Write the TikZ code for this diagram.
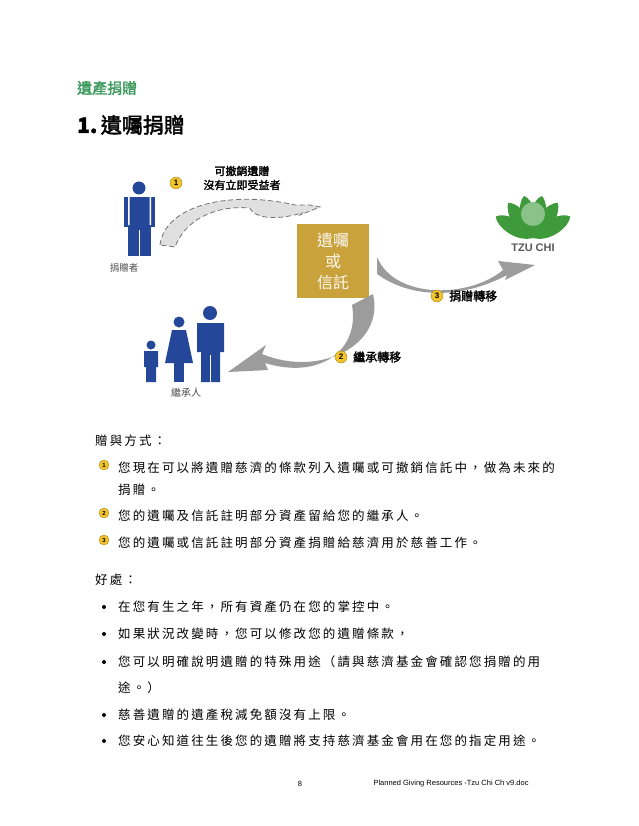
\documentclass[tikz,border=0pt]{standalone}
\usepackage{fontspec}
\newfontfamily\cjk{Noto Sans CJK TC}
\newfontfamily\cjkw{Noto Sans CJK TC}[LetterSpace=17]
\newfontfamily\cjkb{Noto Sans CJK TC}[FakeBold=2]
\setmainfont{Liberation Sans}
\usetikzlibrary{positioning}
\definecolor{titlegreen}{HTML}{3E9A5E}
\definecolor{gold}{HTML}{C9A23C}
\definecolor{badge}{HTML}{F2C32A}
\definecolor{figblue}{HTML}{24479A}
\definecolor{swoosh}{HTML}{9C9C9C}
\definecolor{lotus}{HTML}{3E9A3A}

\begin{document}
\begin{tikzpicture}[x=1pt,y=-1pt]
  \tikzset{
    badge/.style={circle, fill=badge, draw=badge!70!black, inner sep=0pt, minimum size=12pt,
      font=\bfseries\fontsize{8}{8}\selectfont},
    lbl/.style={font=\cjkb\fontsize{12}{15}\selectfont, anchor=west, inner sep=0pt},
    body/.style={font=\cjkw\fontsize{12.5}{22}\selectfont, anchor=west, inner sep=0pt},
    dot/.style={circle, fill=black, inner sep=0pt, minimum size=4pt},
    person/.style={fill=figblue}
  }
  \useasboundingbox (0,0) rectangle (638,826);
  \fill[white] (0,0) rectangle (638,826);

  % headings
  \node[font=\cjkb\fontsize{15}{15}\selectfont, text=titlegreen, anchor=west, inner sep=0pt] (sec) at (77,88) {遺產捐贈};
  \node[font=\cjkb\fontsize{21}{21}\selectfont, anchor=west, inner sep=0pt] (sub) at (77,125) {{\bfseries 1.}\,遺囑捐贈};

  % donor
  \fill[person] (139,188) circle (6.5);
  \fill[person] (124,197) rectangle (155,227);
  \fill[person] (128,227) rectangle (151,256);
  \fill[white] (138.8,230) rectangle (140.2,256);
  \fill[white] (128,197) rectangle (129.5,225) (149.5,197) rectangle (151,225);
  \node[font=\cjk\fontsize{9.5}{10}\selectfont, text=black!70] (donor) at (124,268) {捐贈者};

  % dashed swoosh 1
  \filldraw[fill=black!12, draw=black!55, dash pattern=on 5pt off 3pt, thick]
    (160,245) .. controls (165,205) and (230,190) .. (295,205)
    -- (310,205) -- (320,207) -- (300,215) -- (302,213)
    .. controls (260,225) and (250,210) .. (250,208)
    .. controls (215,205) and (185,220) .. (175,247) -- cycle;
  \node[badge] (b1) at (176,183) {1};
  \node[font=\cjkb\fontsize{11}{14}\selectfont, align=center, inner sep=0pt] (l1) at (242,178) {可撤銷遺贈\\沒有立即受益者};

  % will or trust
  \node[fill=gold, minimum width=72pt, minimum height=74pt, align=center, text=white!92!gold,
    font=\cjk\fontsize{16}{21}\selectfont, inner sep=0pt] (will) at (333,261) {遺囑\\或\\信託};

  % swoosh 3
  \fill[swoosh] (377,257) .. controls (395,300) and (470,298) .. (503,270)
    -- (498,261) -- (535,265) -- (505,280) -- (507,275)
    .. controls (460,300) and (410,298) .. (377,274) -- cycle;
  \node[badge] (b3) at (437,296) {3};
  \node[lbl] (l3) at (449,296) {捐贈轉移};

  % swoosh 2
  \fill[swoosh] (373,294) .. controls (385,345) and (320,378) .. (262,354)
    -- (266,345) -- (228,372) -- (268,370) -- (265,363)
    .. controls (320,380) and (360,350) .. (352,305) -- cycle;
  \node[badge] (b2) at (341,357) {2};
  \node[lbl] (l2) at (353,357) {繼承轉移};

  % heirs
  \fill[person] (151,345) circle (4.5);
  \fill[person] (144,351) rectangle (158,367) (146,367) rectangle (156,382);
  \fill[person] (179,322) circle (5.5);
  \fill[person] (172,330) -- (186,330) -- (193,363) -- (165,363) -- cycle;
  \fill[person] (174,363) rectangle (184,382);
  \fill[person] (210,313) circle (7);
  \fill[person] (197,323) rectangle (224,352) (201,352) rectangle (220,382);
  \fill[white] (209.8,355) rectangle (211,382);
  \node[font=\cjk\fontsize{10}{10}\selectfont, text=black!70] (heirs) at (186,393) {繼承人};

  % logo
  \foreach \a in {-60,-35,-12,12,35,60}
    \fill[lotus, rotate around={\a:(533,238)}] (533,238) .. controls (520,225) and (525,200) .. (533,195)
      .. controls (541,200) and (546,225) .. (533,238) -- cycle;
  \fill[lotus!60!white] (533,214) ellipse (12 and 12);
  \node[font=\bfseries\fontsize{11}{11}\selectfont, text=black!65] (tzu) at (533,248) {TZU CHI};

  % methods
  \node[body] (m0) at (95,441) {贈與方式：};
  \foreach \i/\y in {1/468,2/516,3/543}
    \node[badge, minimum size=10pt, font=\bfseries\fontsize{6}{6}\selectfont] (mb\i) at (104,\y-3) {\i};
  \node[body] (m1) at (118,468) {您現在可以將遺贈慈濟的條款列入遺囑或可撤銷信託中，做為未來的};
  \node[body] (m1b) at (118,490) {捐贈。};
  \node[body] (m2) at (118,516) {您的遺囑及信託註明部分資產留給您的繼承人。};
  \node[body] (m3) at (118,543) {您的遺囑或信託註明部分資產捐贈給慈濟用於慈善工作。};

  % benefits
  \node[body] (p0) at (95,580) {好處：};
  \foreach \y in {607,634,662,715,741}
    \node[dot] at (104,\y) {};
  \node[body] (p1) at (118,607) {在您有生之年，所有資產仍在您的掌控中。};
  \node[body] (p2) at (118,634) {如果狀況改變時，您可以修改您的遺贈條款，};
  \node[body] (p3) at (118,662) {您可以明確說明遺贈的特殊用途（請與慈濟基金會確認您捐贈的用};
  \node[body] (p3b) at (118,688) {途。）};
  \node[body] (p4) at (118,715) {慈善遺贈的遺產稅減免額沒有上限。};
  \node[body] (p5) at (118,741) {您安心知道往生後您的遺贈將支持慈濟基金會用在您的指定用途。};

  % footer
  \node[font=\fontsize{7.5}{8}\selectfont] (pg) at (300,784) {8};
  \node[font=\fontsize{7.5}{8}\selectfont, anchor=west] (doc) at (370,784) {Planned Giving Resources -Tzu Chi Ch v9.doc};
\end{tikzpicture}
\end{document}
